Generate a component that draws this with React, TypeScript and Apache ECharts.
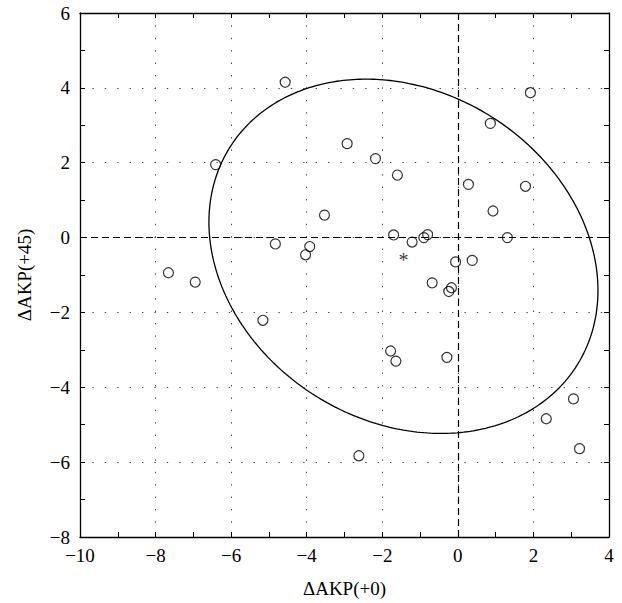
import React, { useEffect, useRef } from "react";
import * as echarts from "echarts";

// ---- data ----
const pointX = [-4.57, -6.41, -2.93, -2.18, -3.53, -4.83, -3.92, -4.03, -7.66, -6.95, -5.16, -2.62, 1.92, 0.86, -1.6, 0.28, 1.79, 0.93, -1.7, -1.21, -0.9, -0.8, 1.31, -0.06, 0.38, -0.68, -0.17, -0.24, -1.78, -1.64, -0.29, 3.06, 2.34, 3.22];
const pointY = [4.15, 1.95, 2.51, 2.11, 0.6, -0.17, -0.24, -0.46, -0.94, -1.19, -2.21, -5.83, 3.87, 3.05, 1.67, 1.42, 1.37, 0.71, 0.07, -0.12, 0.0, 0.08, 0.0, -0.65, -0.61, -1.21, -1.34, -1.44, -3.03, -3.3, -3.2, -4.31, -4.84, -5.64];

// centre (mean) marked with an asterisk, and the ellipse's covariance parameters
const centerPoint = [-1.44, -0.5];
const ellipseCov = [26.5, -4.7, 22.4]; // sxx, sxy, syy

const xTicks = [-10, 4, 2]; // min, max, interval
const yTicks = [-8, 6, 2];

const xName = "ΔAKP(+0)";
const yName = "ΔAKP(+45)";

const FONT = "Liberation Serif";

function ellipsePoints(): number[][] {
  const [sxx, sxy, syy] = ellipseCov;
  const l11 = Math.sqrt(sxx);
  const l21 = sxy / l11;
  const l22 = Math.sqrt(syy - l21 * l21);
  const pts: number[][] = [];
  const n = 360;
  for (let i = 0; i <= n; i++) {
    const t = (i / n) * Math.PI * 2;
    const c = Math.cos(t);
    const s = Math.sin(t);
    pts.push([centerPoint[0] + l11 * c, centerPoint[1] + l21 * c + l22 * s]);
  }
  return pts;
}

const fmt = (v: number) => (v < 0 ? "\u2212" + Math.abs(v) : String(v));

export default function App() {
  const ref = useRef<HTMLDivElement>(null);
  useEffect(() => {
    if (!ref.current) return;
    const chart = echarts.init(ref.current, null, { renderer: "svg" });
    const axisLine = { show: true, onZero: false, lineStyle: { color: "#000", width: 1.3 } };
    const tick = { show: true, inside: true, length: 5, lineStyle: { color: "#000", width: 1 } };
    const minor = { show: true, splitNumber: 2, length: 5, lineStyle: { color: "#000", width: 1 } };
    const split = { show: true, lineStyle: { color: "#444", width: 1, type: [1.4, 11] } };
    const label = { show: true, color: "#000", fontFamily: FONT, fontSize: 19, formatter: fmt };
    chart.setOption({
      animation: false,
      backgroundColor: "#fff",
      grid: { left: 80, top: 13, right: 13, bottom: 64, containLabel: false },
      xAxis: [
        {
          type: "value",
          min: xTicks[0],
          max: xTicks[1],
          interval: xTicks[2],
          position: "bottom",
          axisLine,
          axisTick: tick,
          minorTick: minor,
          splitLine: split,
          axisLabel: { ...label, margin: 9 },
          name: xName,
          nameLocation: "middle",
          nameGap: 42,
          nameTextStyle: { color: "#000", fontFamily: FONT, fontSize: 19 },
        },
        {
          type: "value",
          min: xTicks[0],
          max: xTicks[1],
          interval: xTicks[2],
          position: "top",
          axisLine,
          axisTick: tick,
          minorTick: minor,
          splitLine: { show: false },
          axisLabel: { show: false },
        },
      ],
      yAxis: [
        {
          type: "value",
          min: yTicks[0],
          max: yTicks[1],
          interval: yTicks[2],
          position: "left",
          axisLine,
          axisTick: tick,
          minorTick: minor,
          splitLine: split,
          axisLabel: { ...label, margin: 10 },
          name: yName,
          nameLocation: "middle",
          nameGap: 46,
          nameTextStyle: { color: "#000", fontFamily: FONT, fontSize: 19 },
        },
        {
          type: "value",
          min: yTicks[0],
          max: yTicks[1],
          interval: yTicks[2],
          position: "right",
          axisLine,
          axisTick: tick,
          minorTick: minor,
          splitLine: { show: false },
          axisLabel: { show: false },
        },
      ],
      series: [
        {
          type: "line",
          data: ellipsePoints(),
          showSymbol: false,
          symbol: "none",
          smooth: false,
          lineStyle: { color: "#000", width: 1.3 },
          silent: true,
          z: 3,
        },
        {
          type: "scatter",
          data: pointX.map((x, i) => [x, pointY[i]]),
          symbol: "circle",
          symbolSize: 10,
          itemStyle: { color: "rgba(0,0,0,0)", borderColor: "#000", borderWidth: 1.2 },
          z: 4,
          markLine: {
            silent: true,
            symbol: "none",
            label: { show: false },
            lineStyle: { color: "#000", width: 1.2, type: [7, 4] },
            data: [{ xAxis: 0 }, { yAxis: 0 }],
          },
        },
        {
          type: "scatter",
          data: [centerPoint],
          symbolSize: 1,
          itemStyle: { color: "rgba(0,0,0,0)" },
          label: {
            show: true,
            position: "inside",
            formatter: "*",
            color: "#000",
            fontFamily: FONT,
            fontSize: 20,
            offset: [0, 4],
          },
          z: 5,
        },
      ],
    });
    return () => chart.dispose();
  }, []);
  return (
    <div
      ref={ref}
      style={{ position: "fixed", left: 0, top: 0, width: 622, height: 603 }}
    />
  );
}
